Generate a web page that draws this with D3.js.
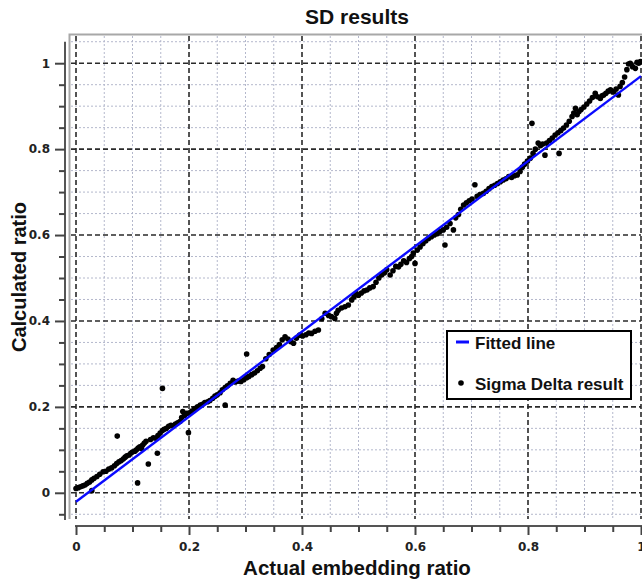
<!DOCTYPE html>
<html>
<head>
<meta charset="utf-8">
<script src="https://cdn.jsdelivr.net/npm/d3@7"></script>
<style>
  body { margin: 0; background: #fff; }
  svg { display: block; }
  .tickLbl { font-family: "DejaVu Sans", Verdana, sans-serif; font-size: 12px; font-weight: bold; fill: #222; }
  .ttl { font-family: "Liberation Sans", Arial, sans-serif; font-weight: bold; fill: #111; }
</style>
</head>
<body>
<svg id="chart" width="642" height="581"></svg>
<script>
// ---- data ----
var majorTicks = [0, 0.2, 0.4, 0.6, 0.8, 1];
var tickLabels = ["0", "0.2", "0.4", "0.6", "0.8", "1"];
var minorX = [0.05, 0.1, 0.15, 0.25, 0.3, 0.35, 0.45, 0.5, 0.55, 0.65, 0.7, 0.75, 0.85, 0.9, 0.95];
var minorY = [-0.05, 0.05, 0.1, 0.15, 0.25, 0.3, 0.35, 0.45, 0.5, 0.55, 0.65, 0.7, 0.75, 0.85, 0.9, 0.95, 1.05];

// fitted line y = slope * x + intercept
var fitSlope = 0.991;
var fitIntercept = -0.021;
var fitRange = [0, 1];

// Sigma Delta results [actual, calculated]
var sdLow = [
  [0.000,0.010],[0.004,0.012],[0.008,0.014],[0.012,0.016],[0.016,0.018],[0.020,0.022],[0.024,0.025],
  [0.028,0.030],[0.032,0.034],[0.037,0.038],[0.042,0.043],[0.048,0.049],[0.053,0.050],[0.058,0.055],
  [0.063,0.058],[0.068,0.063],[0.072,0.068],[0.076,0.072],[0.080,0.075],[0.084,0.079],[0.087,0.083],
  [0.090,0.086],[0.094,0.088],[0.097,0.092],[0.100,0.095],[0.104,0.097],[0.107,0.100],[0.110,0.104],
  [0.113,0.107],[0.116,0.103],[0.118,0.111],[0.121,0.116],[0.124,0.120],
  [0.028,0.005],[0.073,0.132],[0.109,0.023],[0.128,0.067],[0.144,0.092],[0.153,0.243],[0.199,0.140]
];
var sdMidLow = [
  [0.132,0.124],[0.137,0.128],[0.141,0.127],[0.145,0.133],[0.149,0.139],[0.153,0.145],[0.156,0.148],
  [0.160,0.150],[0.164,0.155],[0.168,0.157],[0.172,0.156],[0.176,0.160],[0.180,0.163],[0.184,0.166],
  [0.187,0.175],[0.189,0.189],[0.192,0.180],[0.196,0.185],[0.201,0.186],[0.205,0.190],[0.210,0.196],
  [0.215,0.200],[0.220,0.204],[0.224,0.206],[0.228,0.210],[0.233,0.212],[0.237,0.215],[0.242,0.220],
  [0.246,0.225],[0.250,0.228],[0.255,0.233],[0.259,0.240],[0.264,0.245],[0.268,0.249],[0.273,0.255],
  [0.278,0.262],[0.282,0.258],[0.287,0.260],[0.292,0.259],[0.297,0.263],[0.302,0.268],[0.306,0.271],
  [0.311,0.275],[0.316,0.279],[0.321,0.284],[0.326,0.290],[0.330,0.294],[0.264,0.204],[0.302,0.323]
];
var sdMid = [
  [0.336,0.312],[0.342,0.322],[0.349,0.332],[0.355,0.338],[0.360,0.345],[0.365,0.356],[0.370,0.363],
  [0.375,0.358],[0.380,0.352],[0.385,0.348],[0.390,0.360],[0.396,0.367],[0.401,0.365],[0.407,0.368],
  [0.412,0.372],[0.417,0.371],[0.423,0.376],[0.429,0.379],[0.435,0.405],[0.441,0.418],[0.447,0.413],
  [0.452,0.410],[0.458,0.406],[0.461,0.418],[0.464,0.425],[0.470,0.430],[0.476,0.433],[0.482,0.437],
  [0.488,0.449],[0.492,0.456],[0.496,0.464],
  [0.500,0.460],[0.505,0.465],[0.510,0.470],[0.515,0.472],[0.520,0.477],[0.526,0.480],[0.531,0.490],
  [0.536,0.500],[0.541,0.507],[0.546,0.512],[0.550,0.519],[0.556,0.507],[0.561,0.517],[0.566,0.527],
  [0.571,0.526],[0.575,0.532],[0.580,0.540],[0.585,0.536],[0.590,0.545],[0.594,0.550],[0.597,0.558],
  [0.600,0.534],[0.604,0.565],[0.609,0.572],[0.614,0.580],[0.619,0.586],[0.624,0.592],[0.629,0.596],
  [0.634,0.600],[0.639,0.603],[0.644,0.608],[0.650,0.612],[0.653,0.577],[0.656,0.618],[0.662,0.627],
  [0.668,0.612]
];
var sdHigh = [
  [0.672,0.640],[0.677,0.648],[0.681,0.660],[0.686,0.670],[0.691,0.675],[0.696,0.680],[0.701,0.684],
  [0.706,0.717],[0.710,0.690],[0.715,0.694],[0.721,0.697],[0.726,0.702],[0.731,0.708],[0.736,0.713],
  [0.741,0.716],[0.746,0.720],[0.751,0.724],[0.756,0.728],[0.761,0.731],[0.766,0.736],[0.771,0.734],
  [0.776,0.738],[0.781,0.740],[0.786,0.748],[0.790,0.758],[0.794,0.765],[0.799,0.772],[0.804,0.779],
  [0.807,0.860],[0.809,0.790],[0.813,0.800],[0.818,0.814],[0.822,0.808],[0.826,0.812],[0.830,0.786],
  [0.833,0.814],[0.838,0.820],[0.843,0.826],[0.848,0.833],[0.855,0.790],
  [0.853,0.838],[0.858,0.843],[0.863,0.849],[0.868,0.856],[0.873,0.865],[0.878,0.876],[0.881,0.884],
  [0.884,0.895],[0.887,0.880],[0.890,0.887],[0.894,0.892],[0.899,0.898],[0.904,0.905],[0.909,0.912],
  [0.914,0.920],[0.919,0.930],[0.923,0.922],[0.928,0.918],[0.931,0.924],[0.934,0.926],[0.938,0.930],
  [0.942,0.935],[0.946,0.938],[0.950,0.933],[0.952,0.934],[0.956,0.940],[0.960,0.926],[0.963,0.946],
  [0.967,0.955],[0.971,0.968],[0.975,0.985],[0.978,0.998],[0.981,1.000],[0.985,0.992],[0.990,0.988],
  [0.993,1.002],[0.996,1.000],[0.999,1.004]
];
var sdPoints = sdLow.concat(sdMidLow, sdMid, sdHigh);

// ---- drawing ----
var svg = d3.select("#chart");

var plotL = 69, plotR = 641, plotT = 34, plotB = 519;

var x = d3.scaleLinear().domain([-0.0124, 1]).range([plotL, plotR]);
var y = d3.scaleLinear().domain([-0.061, 1.068]).range([plotB, plotT]);

// plot frame
svg.append("path")
  .attr("d", "M" + (plotL + 0.5) + "," + plotB + "V" + (plotT + 0.5) + "H" + 642)
  .attr("fill", "none").attr("stroke", "#a8a8a8").attr("stroke-width", 2);

var grid = svg.append("g");

// minor grid (dotted)
grid.selectAll(".mgx").data(minorX).enter().append("line")
  .attr("x1", function(d){ return x(d); }).attr("x2", function(d){ return x(d); })
  .attr("y1", plotT + 2).attr("y2", plotB)
  .attr("stroke", "#b4b8cc").attr("stroke-width", 1).attr("stroke-dasharray", "2,2");
grid.selectAll(".mgy").data(minorY).enter().append("line")
  .attr("y1", function(d){ return y(d); }).attr("y2", function(d){ return y(d); })
  .attr("x1", plotL + 2).attr("x2", plotR)
  .attr("stroke", "#b4b8cc").attr("stroke-width", 1).attr("stroke-dasharray", "2,2");

// major grid (dashed)
grid.selectAll(".Mgx").data(majorTicks).enter().append("line")
  .attr("x1", function(d){ return x(d); }).attr("x2", function(d){ return x(d); })
  .attr("y1", plotT + 2).attr("y2", plotB)
  .attr("stroke", "#2a2a2a").attr("stroke-width", 1.6).attr("stroke-dasharray", "5,3");
grid.selectAll(".Mgy").data(majorTicks).enter().append("line")
  .attr("y1", function(d){ return y(d); }).attr("y2", function(d){ return y(d); })
  .attr("x1", plotL + 2).attr("x2", plotR)
  .attr("stroke", "#2a2a2a").attr("stroke-width", 1.6).attr("stroke-dasharray", "5,3");

// points
svg.append("g").selectAll("circle").data(sdPoints).enter().append("circle")
  .attr("cx", function(d){ return x(d[0]); })
  .attr("cy", function(d){ return y(d[1]); })
  .attr("r", 2.8)
  .attr("fill", "#000");

// fitted line
var fitLine = d3.line()
  .x(function(d){ return x(d); })
  .y(function(d){ return y(fitSlope * d + fitIntercept); });
svg.append("path")
  .attr("d", fitLine(fitRange))
  .attr("fill", "none").attr("stroke", "#0a0aff").attr("stroke-width", 2.4);

// y axis
var yAxisX = 65;
svg.append("line")
  .attr("x1", yAxisX).attr("x2", yAxisX)
  .attr("y1", y(1.05)).attr("y2", plotB + 1)
  .attr("stroke", "#555").attr("stroke-width", 2);
var yMinor = svg.append("g").attr("transform", "translate(" + yAxisX + ",0)")
  .call(d3.axisLeft(y).tickValues(minorY.filter(function(d){ return d < 1.04; })).tickSize(6).tickFormat(""));
var yMajor = svg.append("g").attr("transform", "translate(" + yAxisX + ",0)")
  .call(d3.axisLeft(y).tickValues(majorTicks).tickSize(10).tickPadding(5)
    .tickFormat(function(d, i){ return tickLabels[i]; }));

// x axis
var xAxisY = 526;
svg.append("line")
  .attr("x1", x(0) - 1).attr("x2", x(1) + 1)
  .attr("y1", xAxisY).attr("y2", xAxisY)
  .attr("stroke", "#555").attr("stroke-width", 2);
var xMinor = svg.append("g").attr("transform", "translate(0," + xAxisY + ")")
  .call(d3.axisBottom(x).tickValues(minorX).tickSize(6).tickFormat(""));
var xMajor = svg.append("g").attr("transform", "translate(0," + xAxisY + ")")
  .call(d3.axisBottom(x).tickValues(majorTicks).tickSize(9).tickPadding(7)
    .tickFormat(function(d, i){ return tickLabels[i]; }));

[yMinor, yMajor, xMinor, xMajor].forEach(function(ax){
  ax.select(".domain").remove();
  ax.selectAll(".tick line").attr("stroke", "#444").attr("stroke-width", 2);
  ax.selectAll(".tick text").attr("class", "tickLbl").attr("fill", null);
});

// titles
svg.append("text").attr("class", "ttl")
  .attr("x", 357).attr("y", 24).attr("text-anchor", "middle")
  .style("font-size", "21px").text("SD results");
svg.append("text").attr("class", "ttl")
  .attr("x", 357).attr("y", 575).attr("text-anchor", "middle")
  .style("font-size", "20.5px").text("Actual embedding ratio");
svg.append("text").attr("class", "ttl")
  .attr("transform", "translate(26,277) rotate(-90)").attr("text-anchor", "middle")
  .style("font-size", "20px").text("Calculated ratio");

// legend
var leg = svg.append("g").attr("transform", "translate(447,331)");
leg.append("rect").attr("width", 184).attr("height", 68)
  .attr("fill", "#fff").attr("stroke", "#000").attr("stroke-width", 2);
leg.append("line").attr("x1", 9).attr("x2", 22).attr("y1", 11).attr("y2", 11)
  .attr("stroke", "#0a0aff").attr("stroke-width", 3);
leg.append("text").attr("class", "ttl").attr("x", 28).attr("y", 18)
  .style("font-size", "17px").text("Fitted line");
leg.append("circle").attr("cx", 14).attr("cy", 52).attr("r", 2.8).attr("fill", "#000");
leg.append("text").attr("class", "ttl").attr("x", 28).attr("y", 59)
  .style("font-size", "17px").text("Sigma Delta result");
</script>
</body>
</html>
